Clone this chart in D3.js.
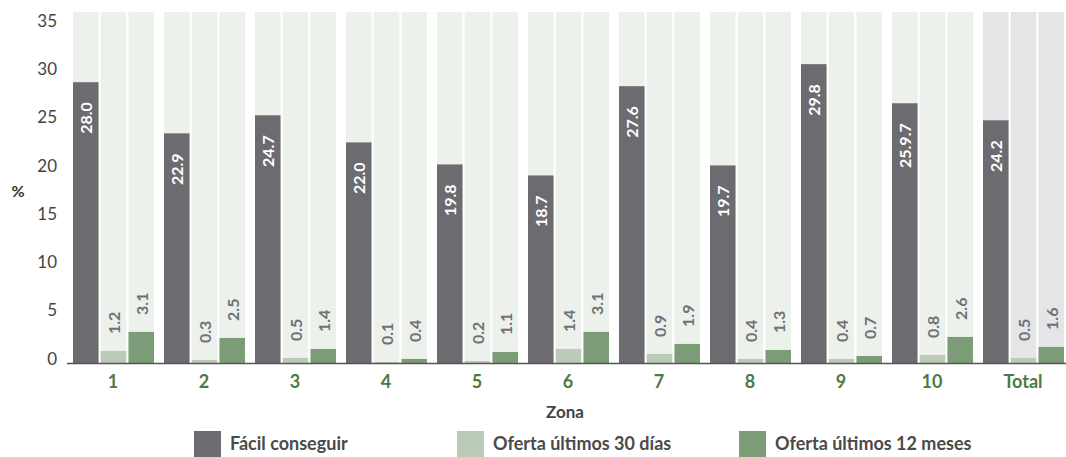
<!DOCTYPE html>
<html>
<head>
<meta charset="utf-8">
<script src="https://cdn.jsdelivr.net/npm/d3@7"></script>
<style>
  body { margin: 0; background: #fff; }
  svg { font-family: "Lato", "Open Sans", sans-serif; }
</style>
</head>
<body>
<svg id="chart" width="1066" height="457"></svg>
<script>
const zonas = ["1", "2", "3", "4", "5", "6", "7", "8", "9", "10", "Total"];
const seriesNames = ["Fácil conseguir", "Oferta últimos 30 días", "Oferta últimos 12 meses"];
const facil = [28.0, 22.9, 24.7, 22.0, 19.8, 18.7, 27.6, 19.7, 29.8, 25.9, 24.2];
const oferta30 = [1.2, 0.3, 0.5, 0.1, 0.2, 1.4, 0.9, 0.4, 0.4, 0.8, 0.5];
const oferta12 = [3.1, 2.5, 1.4, 0.4, 1.1, 3.1, 1.9, 1.3, 0.7, 2.6, 1.6];
// label text as printed in the original (zone 10 reads "25.9.7")
const facilLabels = ["28.0", "22.9", "24.7", "22.0", "19.8", "18.7", "27.6", "19.7", "29.8", "25.9.7", "24.2"];
const yTicks = [0, 5, 10, 15, 20, 25, 30, 35];

const colors = ["#6b6b70", "#bccab8", "#7c9b77"];
const bgColor = "#ecf1eb", bgTotal = "#e4e5e7";

const svg = d3.select("#chart");
const width = 1066, height = 457;

const y = d3.scaleLinear().domain([0, 35]).range([363, 12]);
// tick labels in the original sit on a slightly tighter spacing than the bars
const yLabel = d3.scaleLinear().domain([0, 35]).range([358, 20.5]);
const x0 = d3.scaleBand().domain(zonas).range([73, 73 + 91 * 11]);
const x1 = d3.scaleBand().domain([0, 1, 2]).range([0, 81]).paddingInner(0.08);

const data = zonas.map((z, i) => ({
  zona: z,
  vals: [
    { s: 0, v: facil[i], label: facilLabels[i] },
    { s: 1, v: oferta30[i], label: d3.format(".1f")(oferta30[i]) },
    { s: 2, v: oferta12[i], label: d3.format(".1f")(oferta12[i]) }
  ]
}));

const groups = svg.append("g")
  .selectAll("g")
  .data(data)
  .enter()
  .append("g")
  .attr("transform", d => `translate(${x0(d.zona)},0)`);

// background columns
groups.selectAll("rect.bg")
  .data(d => d.vals.map(v => ({ ...v, total: d.zona === "Total" })))
  .enter()
  .append("rect")
  .attr("class", "bg")
  .attr("x", d => x1(d.s))
  .attr("width", x1.bandwidth())
  .attr("y", y(35))
  .attr("height", y(0) - y(35))
  .attr("fill", d => d.total ? bgTotal : bgColor);

groups.selectAll("rect.bar")
  .data(d => d.vals)
  .enter()
  .append("rect")
  .attr("class", "bar")
  .attr("x", d => x1(d.s))
  .attr("width", x1.bandwidth())
  .attr("y", d => y(d.v))
  .attr("height", d => y(0) - y(d.v))
  .attr("fill", d => colors[d.s]);

groups.selectAll("text.val")
  .data(d => d.vals)
  .enter()
  .append("text")
  .attr("class", "val")
  .attr("transform", d => {
    const cx = x1(d.s) + x1.bandwidth() / 2;
    const cy = d.s === 0 ? y(d.v) + 20 : y(d.v) - 17;
    return `translate(${cx},${cy}) rotate(-90)`;
  })
  .attr("text-anchor", d => d.s === 0 ? "end" : "start")
  .attr("dominant-baseline", "central")
  .attr("fill", d => d.s === 0 ? "#fff" : "#707075")
  .style("font-size", "16px")
  .style("font-weight", "bold")
  .text(d => d.label);

// y axis labels
svg.append("g")
  .selectAll("text")
  .data(yTicks)
  .enter()
  .append("text")
  .attr("x", 57)
  .attr("y", d => yLabel(d))
  .attr("text-anchor", "end")
  .attr("dominant-baseline", "central")
  .attr("fill", "#444")
  .style("font-size", "17px")
  .text(d => d);

svg.append("text")
  .attr("x", 18).attr("y", 190)
  .attr("text-anchor", "middle")
  .attr("dominant-baseline", "central")
  .attr("fill", "#333")
  .style("font-size", "16px")
  .style("font-weight", "bold")
  .text("%");

// baseline
svg.append("line")
  .attr("x1", 67).attr("x2", width)
  .attr("y1", y(0) + 0.5).attr("y2", y(0) + 0.5)
  .attr("stroke", "#555").attr("stroke-width", 1.5);

// x labels
svg.append("g")
  .selectAll("text")
  .data(zonas)
  .enter()
  .append("text")
  .attr("x", d => x0(d) + 40)
  .attr("y", 381)
  .attr("text-anchor", "middle")
  .attr("dominant-baseline", "central")
  .attr("fill", "#4a7b45")
  .style("font-size", "18px")
  .style("font-weight", "bold")
  .text(d => d);

svg.append("text")
  .attr("x", 565).attr("y", 411)
  .attr("text-anchor", "middle")
  .attr("dominant-baseline", "central")
  .attr("fill", "#444")
  .style("font-size", "17px")
  .style("font-weight", "bold")
  .text("Zona");

// legend
const legendX = [194, 457, 739];
const legend = svg.append("g")
  .selectAll("g")
  .data(seriesNames)
  .enter()
  .append("g")
  .attr("transform", (d, i) => `translate(${legendX[i]},431)`);

legend.append("rect")
  .attr("width", 27).attr("height", 27)
  .attr("fill", (d, i) => colors[i]);

legend.append("text")
  .attr("x", 36).attr("y", 12)
  .attr("dominant-baseline", "central")
  .attr("fill", "#4a4a4a")
  .style("font-size", "18px")
  .style("font-weight", "bold")
  .text(d => d);
</script>
</body>
</html>
